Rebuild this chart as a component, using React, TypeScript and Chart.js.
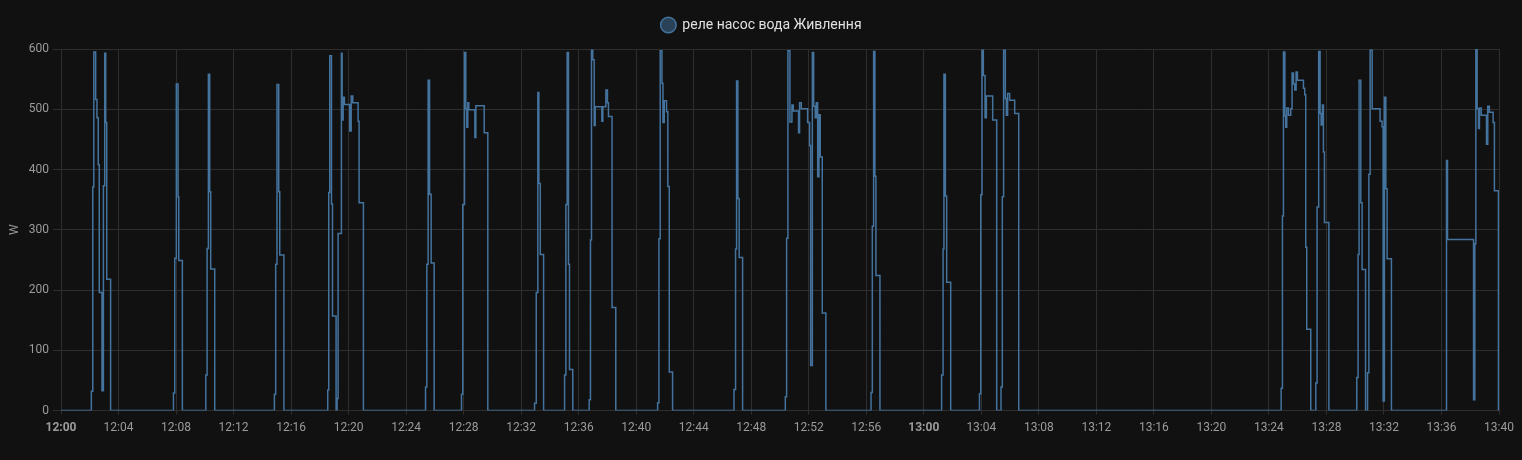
import { useEffect, useRef } from "react";
import { Chart, registerables } from "chart.js";

Chart.register(...registerables);

const seriesLabel = "реле насос вода Живлення";
const yAxisTitle = "W";

// minutes after 12:00 at which the reading changed
const times = [
  0,
  2.11, 2.21, 2.28, 2.41, 2.5, 2.59, 2.66, 2.85, 2.95, 3.04, 3.11, 3.18, 3.45,
  7.82, 7.91, 8.02, 8.14, 8.19, 8.44,
  10.07, 10.16, 10.25, 10.34, 10.41, 10.69,
  14.84, 14.93, 15.02, 15.14, 15.21, 15.5,
  18.55, 18.62, 18.69, 18.81, 18.88, 19.13, 19.2, 19.27, 19.5, 19.55, 19.62, 19.71, 20.08, 20.18, 20.29, 20.66, 20.73, 21.03,
  25.35, 25.44, 25.53, 25.63, 25.74, 25.95,
  27.85, 27.94, 28.06, 28.15, 28.22, 28.29, 28.36, 28.78, 28.85, 29.43, 29.68,
  32.93, 33.05, 33.16, 33.23, 33.33, 33.56,
  35.02, 35.11, 35.2, 35.29, 35.36, 35.59,
  36.73, 36.82, 36.89, 36.98, 37.08, 37.15, 37.61, 37.68, 37.89, 38.0, 38.07, 38.32, 38.58,
  41.49, 41.58, 41.67, 41.79, 41.86, 41.95, 42.11, 42.2, 42.3, 42.53,
  46.8, 46.91, 46.98, 47.07, 47.16, 47.4,
  50.37, 50.46, 50.55, 50.69, 50.83, 50.92, 51.29, 51.36, 51.48, 51.92, 52.06, 52.13, 52.25, 52.34, 52.45, 52.52, 52.62, 52.71, 52.8, 52.94, 53.19,
  56.33, 56.42, 56.51, 56.6, 56.67, 56.95,
  61.24, 61.34, 61.4, 61.5, 61.59, 61.87,
  63.87, 63.96, 64.05, 64.14, 64.26, 64.35, 64.79, 65.07, 65.37, 65.46, 65.55, 65.67, 65.74, 65.83, 65.97, 66.32, 66.6,
  84.85, 84.94, 85.01, 85.11, 85.17, 85.24, 85.36, 85.52, 85.61, 85.71, 85.8, 85.89, 85.98, 86.4, 86.49, 86.56, 86.63, 86.91,
  87.26, 87.35, 87.46, 87.56, 87.63, 87.72, 87.79, 87.86, 88.17,
  90.11, 90.2, 90.27, 90.39, 90.48, 90.72, 90.86, 90.95, 91.04, 91.18, 91.73, 91.87, 91.94, 92.03, 92.13, 92.22, 92.52,
  96.35, 96.42, 98.23, 98.32, 98.39, 98.48, 98.57, 98.64, 98.76, 99.13, 99.22, 99.33, 99.59, 99.68, 99.96,
  100,
];

const watts = [
  0,
  32, 371, 595, 516, 486, 408, 196, 33, 373, 593, 478, 218, 0,
  29, 253, 542, 355, 249, 0,
  59, 269, 558, 363, 235, 0,
  27, 243, 541, 363, 258, 0,
  34, 362, 589, 343, 157, 0, 20, 294, 593, 482, 520, 508, 464, 522, 511, 480, 345, 0,
  39, 243, 548, 359, 245, 0,
  27, 342, 594, 501, 470, 511, 499, 453, 506, 461, 0,
  12, 196, 528, 377, 259, 0,
  59, 342, 594, 243, 68, 0,
  18, 283, 598, 582, 473, 504, 480, 504, 532, 511, 488, 171, 0,
  13, 285, 597, 543, 478, 514, 496, 372, 64, 0,
  35, 268, 547, 352, 254, 0,
  23, 286, 597, 479, 507, 497, 461, 511, 501, 478, 440, 75, 594, 505, 486, 511, 388, 491, 421, 162, 0,
  30, 306, 596, 389, 224, 0,
  59, 268, 558, 356, 213, 0,
  28, 358, 598, 556, 486, 522, 482, 0, 39, 355, 598, 518, 490, 526, 515, 493, 0,
  37, 323, 595, 489, 470, 502, 490, 501, 560, 542, 532, 562, 548, 535, 524, 271, 135, 0,
  46, 338, 596, 493, 474, 507, 429, 312, 0,
  55, 259, 548, 345, 234, 0, 63, 392, 598, 501, 480, 471, 16, 520, 368, 252, 0,
  415, 284, 18, 277, 600, 501, 468, 502, 490, 442, 505, 495, 478, 365, 0,
  0,
];

const yTicks = [0, 100, 200, 300, 400, 500, 600];
const xTickStepMinutes = 4;
const xStartHour = 12;

const lineColor = "#44739e";
const fillColor = "rgba(68,115,158,0.5)";
const gridColor = "#2e2e2e";
const tickColor = "#9b9b9b";
const legendColor = "#e1e1e1";
const bgColor = "#111111";

function fmtTime(v: number): string {
  const total = Math.round(v);
  const h = xStartHour + Math.floor(total / 60);
  const m = total % 60;
  return `${h}:${m < 10 ? "0" + m : m}`;
}

const legendSpacer = {
  id: "legendSpacer",
  beforeInit(chart: any) {
    const legend = chart.legend;
    if (!legend) return;
    const origFit = legend.fit;
    legend.fit = function () {
      origFit.call(this);
      this.height += 7;
    };
  },
  afterLayout(chart: any) {
    const legend = chart.legend;
    if (!legend) return;
    legend.left += 8;
    legend.right += 8;
  },
};

export default function App() {
  const ref = useRef<HTMLCanvasElement | null>(null);

  useEffect(() => {
    document.body.style.margin = "0";
    document.body.style.background = bgColor;
    const canvas = ref.current;
    if (!canvas) return;
    const points = times.map((t, i) => ({ x: t, y: watts[i] }));
    const chart = new Chart(canvas, {
      type: "line",
      data: {
        datasets: [
          {
            label: seriesLabel,
            data: points,
            borderColor: lineColor,
            backgroundColor: fillColor,
            borderWidth: 1.5,
            stepped: true,
            pointRadius: 0,
            fill: false,
          },
        ],
      },
      plugins: [legendSpacer],
      options: {
        animation: false,
        responsive: false,
        maintainAspectRatio: false,
        layout: { padding: { left: 8, right: 23, top: 8, bottom: 19 } },
        plugins: {
          legend: {
            position: "top",
            labels: {
              usePointStyle: true,
              pointStyle: "circle",
              boxHeight: 11,
              color: legendColor,
              font: { family: "Roboto", size: 14 },
              padding: 10,
            },
          },
          tooltip: { enabled: false },
        },
        scales: {
          x: {
            type: "linear",
            min: 0,
            max: 100,
            grid: { color: gridColor, tickLength: 4 },
            border: { display: false },
            ticks: {
              stepSize: xTickStepMinutes,
              autoSkip: false,
              maxRotation: 0,
              color: tickColor,
              padding: 6,
              font: (ctx: any) => ({
                family: "Roboto",
                size: 12,
                weight: ctx.tick && Math.round(ctx.tick.value) % 60 === 0 ? "bold" : "normal",
              }),
              callback: (v: any) => fmtTime(Number(v)),
            },
          },
          y: {
            min: 0,
            max: 600,
            afterFit: (scale: any) => {
              scale.width = 53;
            },
            afterBuildTicks: (scale: any) => {
              scale.ticks = yTicks.map((v) => ({ value: v }));
            },
            grid: { color: gridColor, tickLength: 8 },
            border: { display: false },
            title: {
              display: true,
              text: yAxisTitle,
              color: tickColor,
              font: { family: "Roboto", size: 12 },
              padding: { top: 0, bottom: 0 },
            },
            ticks: {
              color: tickColor,
              font: { family: "Roboto", size: 12 },
              padding: 4,
            },
          },
        },
      },
    });
    return () => chart.destroy();
  }, []);

  return (
    <div style={{ width: 1522, height: 460, background: bgColor }}>
      <canvas ref={ref} width={1522} height={460} style={{ display: "block" }} />
    </div>
  );
}
